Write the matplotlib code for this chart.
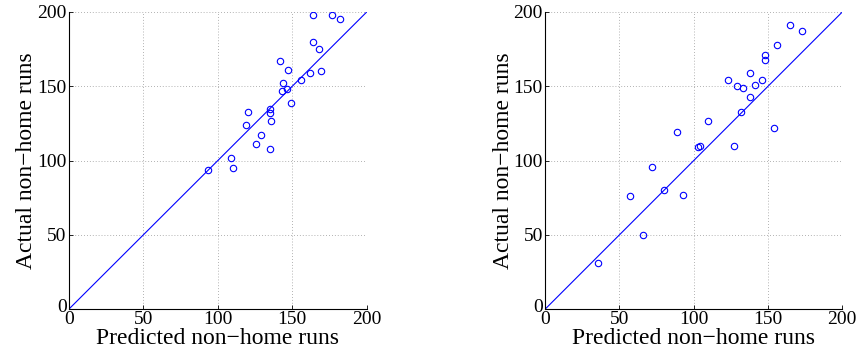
import numpy as np
import matplotlib
matplotlib.use('Agg')
import matplotlib.pyplot as plt
import matplotlib.transforms as mtransforms

plt.rcParams['font.family'] = ['Liberation Serif', 'DejaVu Serif']

# left panel: predicted vs actual
pred_a = [164, 177, 182, 164, 168, 142, 147, 162, 169, 156, 144, 143, 146.5,
          149, 135, 135, 120, 136, 119, 129, 125.5, 135, 109, 93.5, 110]
act_a = [198, 198, 195, 180, 175, 167, 161, 159, 160, 154, 152, 147, 148.5,
         139, 135, 132, 133, 127, 124, 117, 111, 108, 102, 94, 95]

# right panel
pred_b = [36, 57, 66, 72, 80, 93, 103, 104.5, 127, 89, 110, 123, 129, 133,
          132, 138, 138, 165, 173, 156, 148, 148, 141, 146, 154]
act_b = [31, 76, 50, 96, 80, 77, 109, 110, 110, 119, 127, 154, 150, 149,
         133, 159, 143, 191, 187, 178, 171, 168, 151, 154, 122]

ticks = [0, 50, 100, 150, 200]
xlab = 'Predicted non\u2212home runs'
ylab = 'Actual non\u2212home runs'

fig = plt.figure(figsize=(8.6, 3.58), dpi=100)
ax1 = fig.add_axes([0.0799, 0.136, 0.3465, 0.8305])
ax2 = fig.add_axes([0.6337, 0.136, 0.3457, 0.8305])

for ax, px, ay in [(ax1, pred_a, act_a), (ax2, pred_b, act_b)]:
    ax.plot([0, 200], [0, 200], color='b', lw=0.8, zorder=2)
    ax.plot(px, ay, 'o', mfc='none', mec='b', ms=4.6, mew=0.8, zorder=3)
    ax.set_xlim(0, 200)
    ax.set_ylim(0, 200)
    ax.set_xticks(ticks)
    ax.set_yticks(ticks)
    ax.grid(True, ls=(0, (1, 2.5)), color='0.6', lw=0.6)
    ax.set_axisbelow(True)
    for s in ['top', 'right']:
        ax.spines[s].set_visible(False)
    ax.spines['left'].set_linewidth(0.8)
    ax.spines['bottom'].set_linewidth(0.8)
    ax.tick_params(direction='in', length=3, width=0.6, labelsize=14)
    ax.tick_params(axis='x', pad=1.5)
    ax.tick_params(axis='y', pad=1.5)
    ax.set_xlabel(xlab, fontsize=17, labelpad=0)
    ax.set_ylabel(ylab, fontsize=17, labelpad=0)
    # lift the y "0" a touch so it sits just above the x "0"
    lab0 = ax.get_yticklabels()[0]
    lab0.set_transform(lab0.get_transform() +
                       mtransforms.ScaledTranslation(0, 3 / 72, fig.dpi_scale_trans))

plt.savefig('out.png', dpi=100)
